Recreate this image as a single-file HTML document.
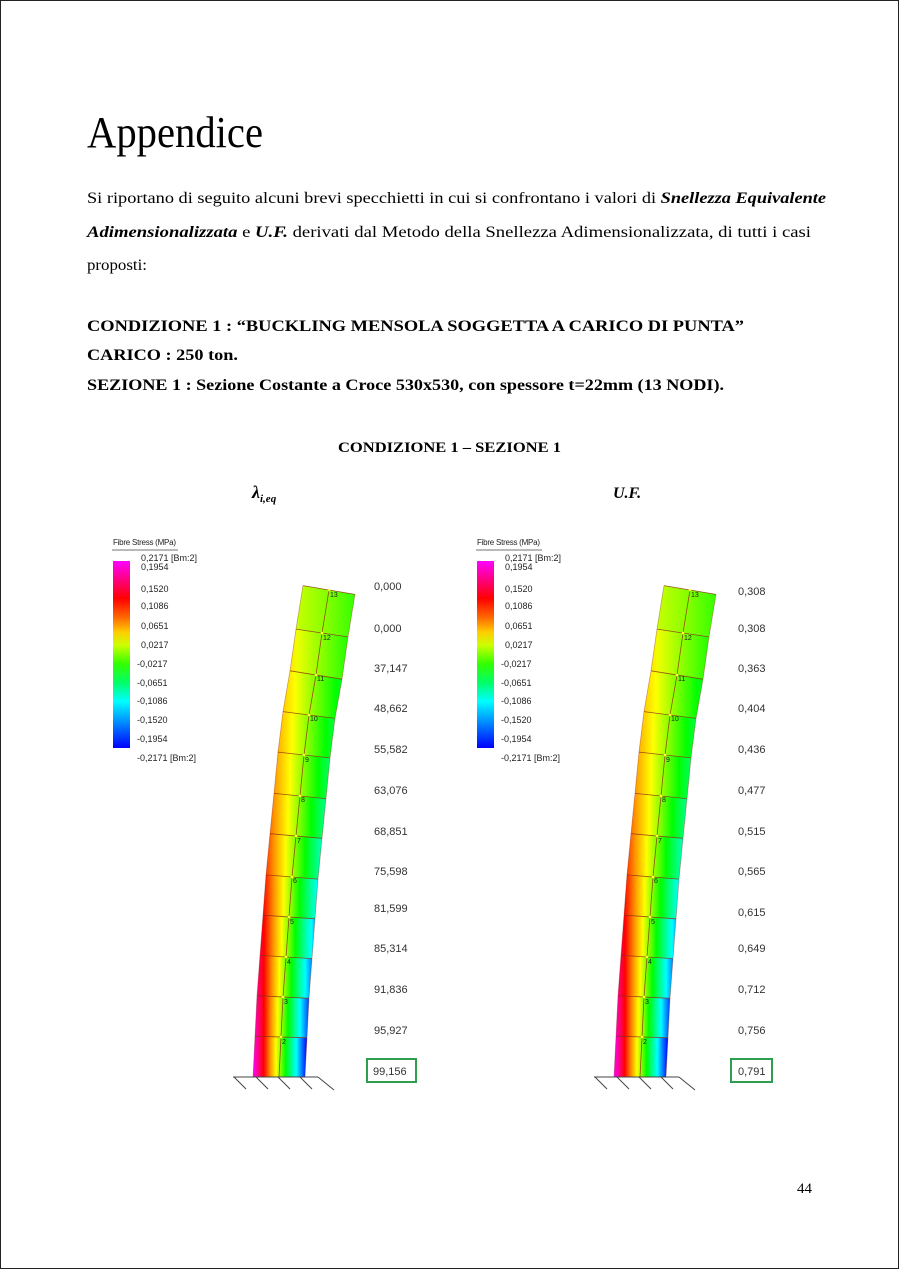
<!DOCTYPE html>
<html><head><meta charset="utf-8"><style>html,body{margin:0;padding:0;background:#fff}svg{display:block}</style></head>
<body>
<svg width="900" height="1271" viewBox="0 0 900 1271" xmlns="http://www.w3.org/2000/svg">
<defs>
<linearGradient id="bar" x1="0" y1="0" x2="0" y2="1">
<stop offset="0" stop-color="#ff00ff"/><stop offset=".1" stop-color="#ff0080"/><stop offset=".2" stop-color="#ff0000"/><stop offset=".3" stop-color="#ff6600"/><stop offset=".38" stop-color="#ffcc00"/><stop offset=".45" stop-color="#ccff00"/><stop offset=".55" stop-color="#33ff00"/><stop offset=".65" stop-color="#00ff66"/><stop offset=".75" stop-color="#00ffff"/><stop offset=".85" stop-color="#0099ff"/><stop offset="1" stop-color="#0000ff"/>
</linearGradient>
<linearGradient id="g1"><stop offset="0" stop-color="#ff00ff"/><stop offset=".2" stop-color="#ff0000"/><stop offset=".325" stop-color="#ff9900"/><stop offset=".425" stop-color="#ffff00"/><stop offset=".6" stop-color="#00ff00"/><stop offset=".8" stop-color="#00ffff"/><stop offset="1" stop-color="#0000ff"/></linearGradient>
<linearGradient id="g2"><stop offset="0" stop-color="#ff00bf"/><stop offset=".167" stop-color="#ff0000"/><stop offset=".306" stop-color="#ff9900"/><stop offset=".417" stop-color="#ffff00"/><stop offset=".611" stop-color="#00ff00"/><stop offset=".833" stop-color="#00ffff"/><stop offset="1" stop-color="#0040ff"/></linearGradient>
<linearGradient id="g3"><stop offset="0" stop-color="#ff0080"/><stop offset=".125" stop-color="#ff0000"/><stop offset=".281" stop-color="#ff9900"/><stop offset=".406" stop-color="#ffff00"/><stop offset=".625" stop-color="#00ff00"/><stop offset=".875" stop-color="#00ffff"/><stop offset="1" stop-color="#0080ff"/></linearGradient>
<linearGradient id="g4"><stop offset="0" stop-color="#ff0040"/><stop offset=".071" stop-color="#ff0000"/><stop offset=".25" stop-color="#ff9900"/><stop offset=".393" stop-color="#ffff00"/><stop offset=".643" stop-color="#00ff00"/><stop offset=".929" stop-color="#00ffff"/><stop offset="1" stop-color="#00bfff"/></linearGradient>
<linearGradient id="g5"><stop offset="0" stop-color="#ff0000"/><stop offset=".208" stop-color="#ff9900"/><stop offset=".375" stop-color="#ffff00"/><stop offset=".667" stop-color="#00ff00"/><stop offset="1" stop-color="#00ffff"/></linearGradient>
<linearGradient id="g6"><stop offset="0" stop-color="#ff3d00"/><stop offset=".15" stop-color="#ff9900"/><stop offset=".35" stop-color="#ffff00"/><stop offset=".7" stop-color="#00ff00"/><stop offset="1" stop-color="#00ffbf"/></linearGradient>
<linearGradient id="g7"><stop offset="0" stop-color="#ff6e00"/><stop offset=".083" stop-color="#ff9900"/><stop offset=".321" stop-color="#ffff00"/><stop offset=".738" stop-color="#00ff00"/><stop offset="1" stop-color="#00ff8c"/></linearGradient>
<linearGradient id="g8"><stop offset="0" stop-color="#ff9900"/><stop offset=".286" stop-color="#ffff00"/><stop offset=".786" stop-color="#00ff00"/><stop offset="1" stop-color="#00ff60"/></linearGradient>
<linearGradient id="g9"><stop offset="0" stop-color="#ffb300"/><stop offset=".25" stop-color="#ffff00"/><stop offset=".833" stop-color="#00ff00"/><stop offset="1" stop-color="#00ff40"/></linearGradient>
<linearGradient id="g10"><stop offset="0" stop-color="#ffcc00"/><stop offset=".2" stop-color="#ffff00"/><stop offset=".9" stop-color="#00ff00"/><stop offset="1" stop-color="#00ff20"/></linearGradient>
<linearGradient id="g11"><stop offset="0" stop-color="#ffe600"/><stop offset=".125" stop-color="#eeff00"/><stop offset="1" stop-color="#22ff00"/></linearGradient>
<linearGradient id="g12"><stop offset="0" stop-color="#c8ff00"/><stop offset=".5" stop-color="#88ff00"/><stop offset="1" stop-color="#33ff00"/></linearGradient>

<g id="col">
<polygon fill="url(#g1)" points="253,1077 305,1077 307,1037.8 255,1036.2"/>
<polygon fill="url(#g2)" points="255,1036.2 307,1037.8 309,998.3 257,995.7"/>
<polygon fill="url(#g3)" points="257,995.7 309,998.3 312,958.6 260,955.4"/>
<polygon fill="url(#g4)" points="260,955.4 312,958.6 315,918.8 263,915.2"/>
<polygon fill="url(#g5)" points="263,915.2 315,918.8 318,879.1 266,874.9"/>
<polygon fill="url(#g6)" points="266,874.9 318,879.1 322,838.3 270,833.7"/>
<polygon fill="url(#g7)" points="270,833.7 322,838.3 326,798.6 274,793.4"/>
<polygon fill="url(#g8)" points="274,793.4 326,798.6 330,757.9 278,752.1"/>
<polygon fill="url(#g9)" points="278,752.1 330,757.9 335,718.4 283,711.6"/>
<polygon fill="url(#g10)" points="283,711.6 335,718.4 342,679.2 290,670.8"/>
<polygon fill="url(#g11)" points="290,670.8 342,679.2 348,636.9 296,629.1"/>
<polygon fill="url(#g12)" points="296,629.1 348,636.9 355,594.4 303,585.6"/>
<g stroke="#8b2a10" stroke-width="0.8" fill="none" opacity="0.8">
<line x1="255" y1="1036.2" x2="307" y2="1037.8"/><line x1="257" y1="995.7" x2="309" y2="998.3"/><line x1="260" y1="955.4" x2="312" y2="958.6"/><line x1="263" y1="915.2" x2="315" y2="918.8"/><line x1="266" y1="874.9" x2="318" y2="879.1"/><line x1="270" y1="833.7" x2="322" y2="838.3"/><line x1="274" y1="793.4" x2="326" y2="798.6"/><line x1="278" y1="752.1" x2="330" y2="757.9"/><line x1="283" y1="711.6" x2="335" y2="718.4"/><line x1="290" y1="670.8" x2="342" y2="679.2"/><line x1="296" y1="629.1" x2="348" y2="636.9"/><line x1="303" y1="585.6" x2="355" y2="594.4"/>
<polyline points="279,1077 281,1037 283,997 286,957 289,917 292,877 296,836 300,796 304,755 309,715 316,675 322,633 329,590"/>
<polyline points="303,585.6 296,629.1 290,670.8 283,711.6 278,752.1 274,793.4 270,833.7 266,874.9 263,915.2 260,955.4 257,995.7 255,1036.2 253,1077" opacity=".5"/>
<polyline points="355,594.4 348,636.9 342,679.2 335,718.4 330,757.9 326,798.6 322,838.3 318,879.1 315,918.8 312,958.6 309,998.3 307,1037.8 305,1077" opacity=".5"/>
</g>
<g fill="#ffff33"><circle cx="281" cy="1037" r="1.3"/><circle cx="283" cy="997" r="1.3"/><circle cx="286" cy="957" r="1.3"/><circle cx="289" cy="917" r="1.3"/><circle cx="292" cy="877" r="1.3"/><circle cx="296" cy="836" r="1.3"/><circle cx="300" cy="796" r="1.3"/><circle cx="304" cy="755" r="1.3"/><circle cx="309" cy="715" r="1.3"/><circle cx="316" cy="675" r="1.3"/><circle cx="322" cy="633" r="1.3"/><circle cx="329" cy="590" r="1.3"/></g>
<g font-family="Liberation Sans, sans-serif" font-size="7" fill="#222">
<text x="282" y="1044">2</text><text x="284" y="1004">3</text><text x="287" y="964">4</text><text x="290" y="924">5</text><text x="293" y="883">6</text><text x="297" y="843">7</text><text x="301" y="802">8</text><text x="305" y="762">9</text><text x="310" y="721">10</text><text x="317" y="681">11</text><text x="323" y="640">12</text><text x="330" y="597">13</text>
</g>
<g stroke="#444" stroke-width="1" fill="none">
<line x1="233" y1="1077" x2="318" y2="1077"/>
<line x1="234" y1="1077" x2="246" y2="1089"/><line x1="256" y1="1077" x2="268" y2="1089"/><line x1="278" y1="1077" x2="290" y2="1089"/><line x1="300" y1="1077" x2="312" y2="1089"/><line x1="318" y1="1077" x2="334" y2="1090"/>
</g>
</g>

<g id="leg">
<text x="113" y="545" font-family="Liberation Sans, sans-serif" font-size="8" fill="#222" textLength="63">Fibre Stress (MPa)</text>
<line x1="112" y1="550" x2="178" y2="550" stroke="#444" stroke-width="0.8"/>
<rect x="113" y="561" width="17" height="187" fill="url(#bar)"/>
<g font-family="Liberation Sans, sans-serif" font-size="9" fill="#222">
<text x="141" y="561">0,2171 [Bm:2]</text><text x="141" y="570">0,1954</text><text x="141" y="592">0,1520</text><text x="141" y="609">0,1086</text><text x="141" y="629">0,0651</text><text x="141" y="648">0,0217</text><text x="137" y="667">-0,0217</text><text x="137" y="686">-0,0651</text><text x="137" y="704">-0,1086</text><text x="137" y="723">-0,1520</text><text x="137" y="742">-0,1954</text><text x="137" y="761">-0,2171 [Bm:2]</text>
</g>
</g>
</defs>

<rect x="0.5" y="0.5" width="898" height="1268" fill="#fff" stroke="#222" stroke-width="1"/>

<g font-family="Liberation Serif, serif" fill="#000">
<text x="87" y="147" font-size="44" textLength="176" lengthAdjust="spacingAndGlyphs">Appendice</text>
<text x="87" y="203" font-size="16" textLength="739" lengthAdjust="spacingAndGlyphs">Si riportano di seguito alcuni brevi specchietti in cui si confrontano i valori di <tspan font-weight="bold" font-style="italic">Snellezza Equivalente</tspan></text>
<text x="87" y="237" font-size="16" textLength="724" lengthAdjust="spacingAndGlyphs"><tspan font-weight="bold" font-style="italic">Adimensionalizzata</tspan> e <tspan font-weight="bold" font-style="italic">U.F.</tspan> derivati dal Metodo della Snellezza Adimensionalizzata, di tutti i casi</text>
<text x="87" y="270" font-size="16" textLength="60" lengthAdjust="spacingAndGlyphs">proposti:</text>
<g font-weight="bold" font-size="16">
<text x="87" y="331" textLength="657" lengthAdjust="spacingAndGlyphs">CONDIZIONE 1 : “BUCKLING MENSOLA SOGGETTA A CARICO DI PUNTA”</text>
<text x="87" y="360" textLength="151" lengthAdjust="spacingAndGlyphs">CARICO : 250 ton.</text>
<text x="87" y="390" textLength="637" lengthAdjust="spacingAndGlyphs">SEZIONE 1 : Sezione Costante a Croce 530x530, con spessore t=22mm (13 NODI).</text>
<text x="338" y="452" font-size="15" textLength="223" lengthAdjust="spacingAndGlyphs">CONDIZIONE 1 – SEZIONE 1</text>
</g>
<text x="252" y="498" font-size="18" font-weight="bold" font-style="italic">λ<tspan font-size="11" dy="4">i,eq</tspan></text>
<text x="613" y="498" font-size="16" font-weight="bold" font-style="italic">U.F.</text>
<text x="797" y="1193" font-size="15">44</text>
</g>

<use href="#leg"/>
<use href="#col"/>
<use href="#leg" transform="translate(364,0)"/>
<use href="#col" transform="translate(361,0)"/>

<g font-family="Liberation Sans, sans-serif" font-size="11" fill="#333">
<text x="374" y="590">0,000</text><text x="374" y="632">0,000</text><text x="374" y="672">37,147</text><text x="374" y="712">48,662</text><text x="374" y="753">55,582</text><text x="374" y="794">63,076</text><text x="374" y="835">68,851</text><text x="374" y="875">75,598</text><text x="374" y="912">81,599</text><text x="374" y="952">85,314</text><text x="374" y="993">91,836</text><text x="374" y="1034">95,927</text><text x="373" y="1075">99,156</text>
<text x="738" y="595">0,308</text><text x="738" y="632">0,308</text><text x="738" y="672">0,363</text><text x="738" y="712">0,404</text><text x="738" y="753">0,436</text><text x="738" y="794">0,477</text><text x="738" y="835">0,515</text><text x="738" y="875">0,565</text><text x="738" y="916">0,615</text><text x="738" y="952">0,649</text><text x="738" y="993">0,712</text><text x="738" y="1034">0,756</text><text x="738" y="1075">0,791</text>
</g>
<rect x="367" y="1059" width="49" height="23" fill="none" stroke="#2e9e4f" stroke-width="2"/>
<rect x="731" y="1059" width="41" height="23" fill="none" stroke="#2e9e4f" stroke-width="2"/>
</svg>
</body></html>
